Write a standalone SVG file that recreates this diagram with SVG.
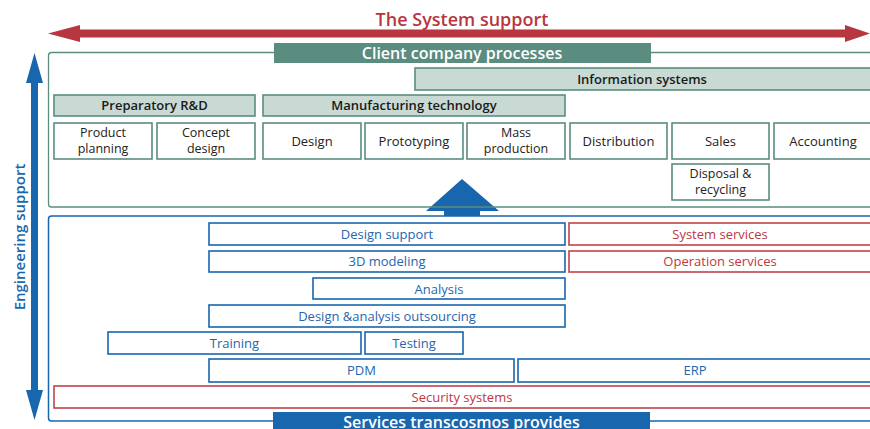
<svg xmlns="http://www.w3.org/2000/svg" width="870" height="429" viewBox="0 0 870 429">
<style>
text{font-family:"Open Sans","Liberation Sans",sans-serif;text-anchor:middle}
.frameG{fill:none;stroke:#5b8c80;stroke-width:1.3}
.frameB{fill:none;stroke:#1866ae;stroke-width:1.5}
.hdr{fill:#c9d9d4;stroke:#5b8c80;stroke-width:1.6}
.hdrT{font-size:13px;font-weight:600;fill:#1a1a1a}
.proc{fill:#fff;stroke:#5b8c80;stroke-width:1.6}
.procT{font-size:13px;fill:#222}
.procT2{font-size:12.5px;fill:#222}
.svc{fill:#fff;stroke:#1866ae;stroke-width:1.6}
.svcT{font-size:13px;fill:#1f66ad}
.sys{fill:#fff;stroke:#c2434c;stroke-width:1.6}
.sysT{font-size:13px;fill:#c0363f}
.band{font-size:16px;font-weight:600;fill:#fff}
</style>
<g id="connectors">
<g id="system-support-arrow">
<polygon points="48,33.5 80,25 80,29.5 845,29.5 845,25 870,33.5 845,42 845,37.5 80,37.5 80,42" fill="#b8363f"/>
<text x="462" y="26" style="font-size:18px;font-weight:600;fill:#b8363f">The System support</text>
</g>
<g id="engineering-support-arrow">
<polygon points="34.5,53 43,83 38,83 38,390 43,390 34.5,420 26,390 31,390 31,83 26,83" fill="#1866ae"/>
<text transform="translate(25,237) rotate(-90)" style="font-size:15px;font-weight:600;fill:#1866ae">Engineering support</text>
</g>
<polygon id="up-arrow" points="462,179 499,211 480,211 480,216 444,216 444,211 426,211" fill="#1866ae"/>
</g>
<g id="client-frame">
<rect class="frameG" x="48.5" y="52.5" width="830" height="154.5" rx="3"/>
<rect x="274" y="43" width="377" height="20" fill="#5b8c80"/>
<text class="band" x="462" y="59">Client company processes</text>
</g>
<g id="info-systems"><rect class="hdr" x="415" y="68" width="460" height="22"/><text class="hdrT" x="642" y="84">Information systems</text></g>
<g id="prep-rd"><rect class="hdr" x="54" y="95" width="201" height="21"/><text class="hdrT" x="154.5" y="110">Preparatory R&amp;D</text></g>
<g id="mfg-tech"><rect class="hdr" x="263" y="95" width="302" height="21"/><text class="hdrT" x="414" y="110">Manufacturing technology</text></g>
<g id="product-planning"><rect class="proc" x="54" y="123" width="98" height="36"/><text class="procT2" x="103" y="137">Product</text><text class="procT2" x="103" y="153">planning</text></g>
<g id="concept-design"><rect class="proc" x="157" y="123" width="98" height="36"/><text class="procT2" x="206" y="137">Concept</text><text class="procT2" x="206" y="153">design</text></g>
<g id="design"><rect class="proc" x="263" y="123" width="98" height="36"/><text class="procT" x="312" y="146">Design</text></g>
<g id="prototyping"><rect class="proc" x="365" y="123" width="98" height="36"/><text class="procT" x="414" y="146">Prototyping</text></g>
<g id="mass-production"><rect class="proc" x="467" y="123" width="98" height="36"/><text class="procT2" x="516" y="137">Mass</text><text class="procT2" x="516" y="153">production</text></g>
<g id="distribution"><rect class="proc" x="570" y="123" width="97" height="36"/><text class="procT" x="618.5" y="146">Distribution</text></g>
<g id="sales"><rect class="proc" x="672" y="123" width="97" height="36"/><text class="procT" x="720.5" y="146">Sales</text></g>
<g id="accounting"><rect class="proc" x="774" y="123" width="100" height="36"/><text class="procT" x="823" y="146">Accounting</text></g>
<g id="disposal"><rect class="proc" x="672" y="164" width="97" height="36"/><text class="procT2" x="720.5" y="178">Disposal &amp;</text><text class="procT2" x="720.5" y="194">recycling</text></g>
<g id="services-frame">
<rect class="frameB" x="48.5" y="216" width="830" height="205" rx="3"/>
<rect x="273" y="412" width="377" height="20" fill="#1866ae"/>
<text class="band" x="461.5" y="428">Services transcosmos provides</text>
</g>
<g id="design-support"><rect class="svc" x="209" y="223" width="356" height="22"/><text class="svcT" x="387" y="239">Design support</text></g>
<g id="system-services"><rect class="sys" x="569" y="223" width="305" height="22"/><text class="sysT" x="720" y="239">System services</text></g>
<g id="modeling-3d"><rect class="svc" x="209" y="251" width="356" height="21"/><text class="svcT" x="387" y="266">3D modeling</text></g>
<g id="operation-services"><rect class="sys" x="569" y="251" width="305" height="21"/><text class="sysT" x="720" y="266">Operation services</text></g>
<g id="analysis"><rect class="svc" x="313" y="278" width="252" height="21"/><text class="svcT" x="439" y="294">Analysis</text></g>
<g id="outsourcing"><rect class="svc" x="209" y="305" width="356" height="22"/><text class="svcT" x="387" y="321">Design &amp;analysis outsourcing</text></g>
<g id="training"><rect class="svc" x="108" y="332" width="253" height="22"/><text class="svcT" x="234.5" y="348">Training</text></g>
<g id="testing"><rect class="svc" x="365" y="332" width="98" height="22"/><text class="svcT" x="414" y="348">Testing</text></g>
<g id="pdm"><rect class="svc" x="209" y="359" width="305" height="23"/><text class="svcT" x="361.5" y="375">PDM</text></g>
<g id="erp"><rect class="svc" x="518" y="359" width="356" height="23"/><text class="svcT" x="695" y="375">ERP</text></g>
<g id="security"><rect class="sys" x="54" y="386" width="820" height="22"/><text class="sysT" x="462" y="402">Security systems</text></g>
</svg>
